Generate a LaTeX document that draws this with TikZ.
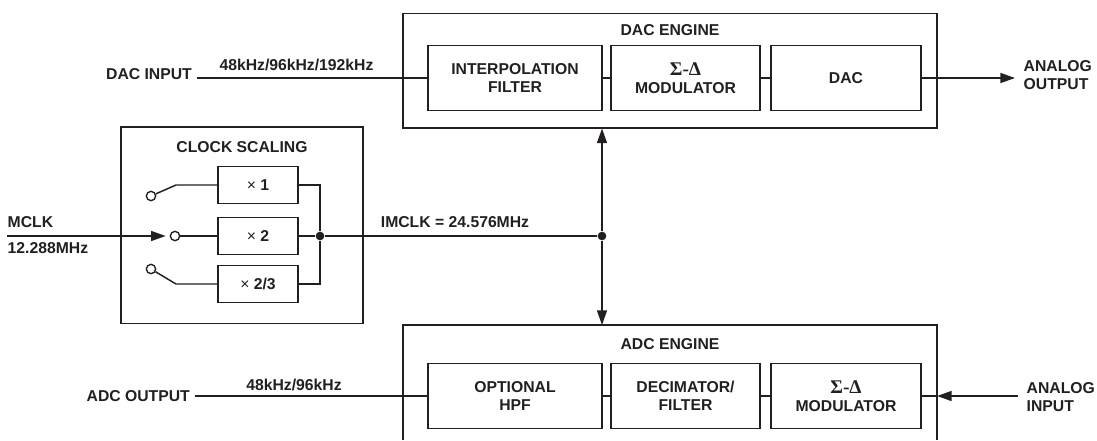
\documentclass[tikz,border=0pt]{standalone}
\usepackage{fontspec}
\setmainfont{Liberation Sans}
\newfontfamily\sigmafont{Liberation Serif}
\usetikzlibrary{arrows.meta}
\definecolor{ink}{RGB}{35,31,32}
\newcommand{\sigdel}{{\sigmafont\fontsize{14.5}{13.5}\selectfont Σ-Δ}}
\tikzset{
  lbl/.style={font=\bfseries\fontsize{11.8}{13.5}\selectfont, align=center},
  frame/.style={draw, line width=1.1pt, inner sep=0pt},
  blk/.style={lbl, frame, minimum height=48.75pt},
  mulbox/.style={lbl, frame, minimum width=60pt, minimum height=27.75pt},
  pole/.style={circle, draw, line width=1pt, inner sep=0pt, minimum size=7pt, fill=white},
  dot/.style={circle, fill, inner sep=0pt, minimum size=6.5pt},
  arr/.style={-{Triangle[length=11pt,width=7.5pt]}}
}

\begin{document}
\begin{tikzpicture}[x=0.75pt,y=0.75pt,yscale=-1,xscale=1,color=ink,line width=1.1pt]
\useasboundingbox (0,0) rectangle (1097,440);

%Shape: Rectangle [DAC engine]
\node (dacengine) at (670,70.5) [frame, minimum width=400.5pt, minimum height=85.9pt] {};
\node (daclbl) at (670,30) [lbl] {DAC ENGINE};
\node (interp) at (515,78) [blk, minimum width=130.5pt] {INTERPOLATION\\FILTER};
\node (sdmdac) at (685.5,78) [blk, minimum width=111.75pt] {\sigdel\\MODULATOR};
\node (dac) at (846,78) [blk, minimum width=112.5pt] {DAC};

% Text Node
\node (dacin) at (197,74.5) [lbl, anchor=east] {DAC INPUT};
\node (dacrate) at (296.5,65) [lbl] {48kHz/96kHz/192kHz};
\node (aout) at (1015,75) [lbl, anchor=west, align=left, inner xsep=6pt] {ANALOG\\OUTPUT};

%Straight Lines
\draw (dacin.east |- interp) -- (interp);
\draw (interp) -- (sdmdac);
\draw (sdmdac) -- (dac);
\draw [arr] (dac) -- (dac -| aout.west);

%Shape: Rectangle [clock scaling]
\node (clkbox) at (242,225.4) [frame, minimum width=181.5pt, minimum height=147.4pt] {};
\node (clklbl) at (242,147) [lbl] {CLOCK SCALING};
\node (mul1) at (258,185) [mulbox] {{\mdseries ×} 1};
\node (mul2) at (258,236) [mulbox] {{\mdseries ×} 2};
\node (mul3) at (258,284) [mulbox] {{\mdseries ×} 2/3};

%Shape: Circle [switch poles]
\node (sw1) at (151,196) [pole] {};
\node (sw2) at (175,236) [pole] {};
\node (sw3) at (151,269) [pole] {};
\coordinate (knee1) at (176,185);
\coordinate (knee3) at (176,284);
\draw (sw1) -- (knee1) -- (mul1);
\draw (sw2) -- (mul2);
\draw (sw3) -- (knee3) -- (mul3);
\node (bus) at (320,236) [dot] {};
\draw (mul1) -| (bus) |- (mul3);
\draw (mul2) -- (bus);

% Text Node
\coordinate (mclkin) at (7,236);
\node (mclk) at (7,222) [lbl, anchor=west, inner sep=0pt] {MCLK};
\node (mclkrate) at (7,248) [lbl, anchor=west, inner sep=0pt] {12.288MHz};
\draw [arr, shorten >=3pt] (mclkin) -- (sw2);

%Straight Lines [IMCLK]
\node (imdot) at (602,236) [dot] {};
\draw (bus) -- (imdot);
\node (imclk) at (455,222) [lbl] {IMCLK = 24.576MHz};
\coordinate (adcnw) at (403,325);
\coordinate (adcne) at (937,325);
\draw [arr] (imdot) -- (imdot |- dacengine.south);
\draw [arr] (imdot) -- (imdot |- adcne);

%Shape: Rectangle [ADC engine, open at the bottom]
\draw (adcnw |- 0,440) -- (adcnw) -- (adcne) -- (adcne |- 0,440);
\node (adclbl) at (670,344) [lbl] {ADC ENGINE};
\node (hpf) at (515,396) [blk, minimum width=130.5pt] {OPTIONAL\\HPF};
\node (decim) at (685.5,396) [blk, minimum width=111.75pt] {DECIMATOR/\\FILTER};
\node (sdmadc) at (846,396) [blk, minimum width=112.5pt] {\sigdel\\MODULATOR};
\draw (hpf) -- (decim);
\draw (decim) -- (sdmadc);

% Text Node
\node (adcout) at (195,396) [lbl, anchor=east] {ADC OUTPUT};
\node (adcrate) at (294,385) [lbl] {48kHz/96kHz};
\node (ain) at (1018,397.5) [lbl, anchor=west, align=left, inner xsep=6pt] {ANALOG\\INPUT};
\draw (adcout) -- (hpf);
\draw [arr] (ain.west |- sdmadc) -- (sdmadc -| adcne);
\draw (sdmadc -| adcne) -- (sdmadc);

\end{tikzpicture}
\end{document}
